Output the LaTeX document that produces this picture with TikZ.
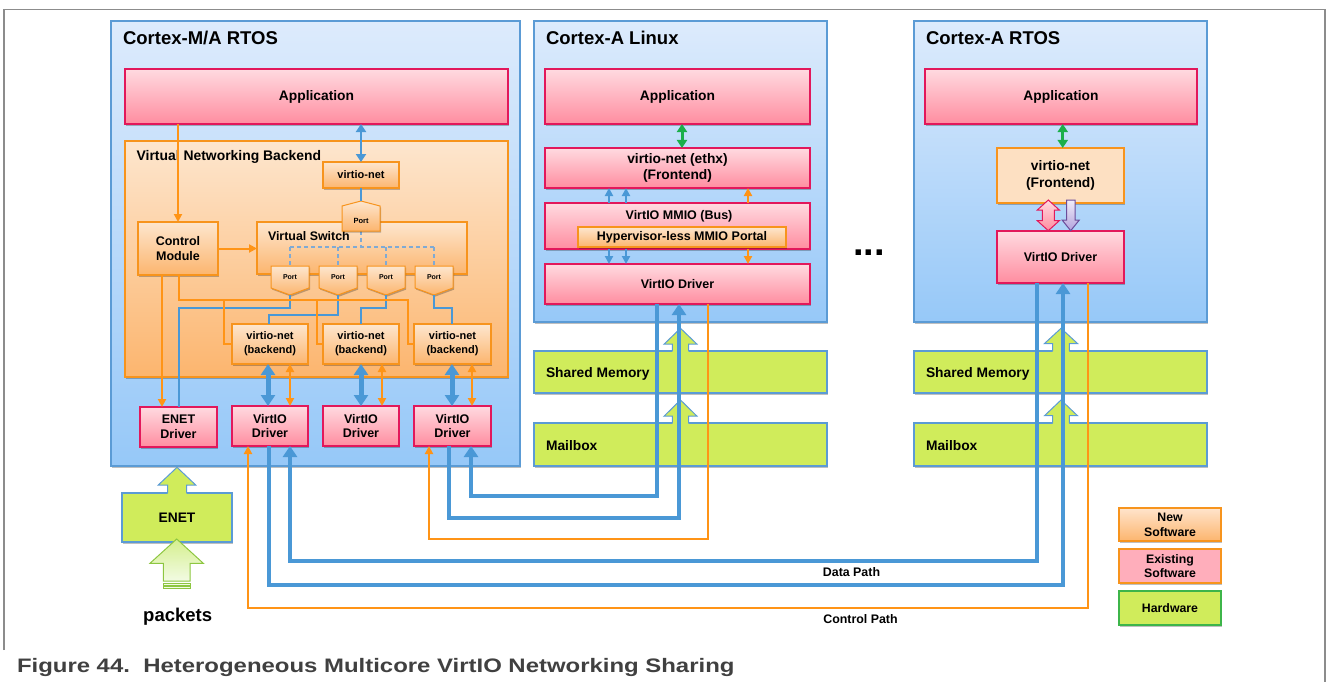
\documentclass[tikz,border=0pt]{standalone}
\usepackage{fontspec}
\setmainfont{Liberation Sans}
\usetikzlibrary{arrows.meta,shadows}
\definecolor{cbd}{HTML}{5B9BD5}
\definecolor{ctop}{HTML}{DDEBFC}
\definecolor{cbot}{HTML}{96C8F8}
\definecolor{pbd}{HTML}{E2185B}
\definecolor{ptop}{HTML}{FFDAE0}
\definecolor{pbot}{HTML}{FF8DA0}
\definecolor{obd}{HTML}{F7941D}
\definecolor{otop}{HTML}{FDE6CE}
\definecolor{obot}{HTML}{FCB56E}
\definecolor{ofl}{HTML}{FDE0C2}
\definecolor{hwf}{HTML}{D0EC5B}
\definecolor{hwbd}{HTML}{3DB54A}
\definecolor{esf}{HTML}{FFAEBB}
\definecolor{lblue}{HTML}{4A98D6}
\definecolor{lorange}{HTML}{FF9416}
\definecolor{lgreen}{HTML}{1BAF4A}
\definecolor{framec}{HTML}{8C8C8C}
\definecolor{dashc}{HTML}{7FAAD4}
\definecolor{pkd}{HTML}{8DC641}
\definecolor{pkt}{HTML}{D5EF8E}
\definecolor{pkb}{HTML}{F2FBE3}
\definecolor{lavt}{HTML}{F0ECFA}
\definecolor{lavb}{HTML}{B3A2DC}
\definecolor{lavd}{HTML}{6B4C9A}
\definecolor{capc}{HTML}{404040}
\newcommand\fsz[2]{\fontsize{#1bp}{#2bp}\selectfont\bfseries}
\tikzset{
  tbig/.tip={Triangle[length=11bp,width=14bp]},
  tmid/.tip={Triangle[length=8bp,width=10bp]},
  tsm/.tip={Triangle[length=8bp,width=8bp]},
  shadowed/.style={drop shadow={shadow xshift=1.2bp,shadow yshift=-1.6bp,opacity=0.25,fill=black}},
  container/.style={draw=cbd,line width=1.3bp,top color=ctop,bottom color=cbot,shadowed},
  pinkbox/.style={draw=pbd,line width=1.1bp,top color=ptop,bottom color=pbot,shadowed,align=center},
  orbox/.style={draw=obd,line width=1.1bp,top color=otop,bottom color=obot,shadowed,align=center},
  hwbox/.style={draw=cbd,line width=1.1bp,fill=hwf,shadowed,align=center},
  dpath/.style={draw=lblue,line width=4.4bp},
  cpath/.style={draw=lorange,line width=2bp},
  bthin/.style={draw=lblue,line width=2bp},
  othin/.style={draw=lorange,line width=2bp},
  gpath/.style={draw=lgreen,line width=3bp},
  dashln/.style={draw=dashc,line width=1.2bp,dash pattern=on 4bp off 3bp},
  ctitle/.style={anchor=base west,font=\fsz{18.5}{22}},
}
\newcommand\dport[2]{%
  \path[draw=obd,line width=1bp,top color=otop,bottom color=obot,shadowed]
    ({#2-19},266) -- ({#2+19},266) -- ({#2+19},288) -- (#2,295) -- ({#2-19},288) -- cycle;
  \node[font=\fsz{7}{8}] (#1) at (#2,277.5) {Port};
  \coordinate (#1B) at (#2,295);
  \coordinate (#1T) at (#2,266);
}
\newcommand\hwarrow[6]{%
  \fill[hwf] (#1,#2) -- ({#1+#5},#3) -- ({#1+#6},#3) -- ({#1+#6},{#4+1.5}) -- ({#1-#6},{#4+1.5}) -- ({#1-#6},#3) -- ({#1-#5},#3) -- cycle;
  \draw[cbd,line width=1bp] ({#1+#6},#4) -- ({#1+#6},#3) -- ({#1+#5},#3) -- (#1,#2) -- ({#1-#5},#3) -- ({#1-#6},#3) -- ({#1-#6},#4);
}
\begin{document}
\begin{tikzpicture}[x=1bp,y=-1bp,every node/.style={inner sep=0pt,outer sep=0pt}]
\useasboundingbox (0,0) rectangle (1328,682);
% frame
\draw[framec,line width=1.5bp] (4,650) -- (4,9.5) -- (1325,9.5) -- (1325,682);
% containers
\node[container,minimum width=409bp,minimum height=445bp] (cma) at (315.5,243.5) {};
\node[container,minimum width=293bp,minimum height=301bp] (cla) at (680.5,171.5) {};
\node[container,minimum width=293bp,minimum height=301bp] (cra) at (1060.5,171.5) {};
\node[ctitle] (t1) at (123,45) {Cortex-M/A RTOS};
\node[ctitle] (t2) at (546,45) {Cortex-A Linux};
\node[ctitle] (t3) at (926,45) {Cortex-A RTOS};
% applications
\node[pinkbox,minimum width=383bp,minimum height=55bp,font=\fsz{13.8}{16}] (app1) at (316.5,96.5) {Application};
\node[pinkbox,minimum width=265bp,minimum height=55bp,font=\fsz{13.8}{16}] (app2) at (677.5,96.5) {Application};
\node[pinkbox,minimum width=272bp,minimum height=55bp,font=\fsz{13.8}{16}] (app3) at (1061,96.5) {Application};
% virtual networking backend
\node[orbox,minimum width=383bp,minimum height=236bp] (vnb) at (316.5,259) {};
\node[anchor=base west,font=\fsz{13.9}{16}] (vnbt) at (136.7,160) {Virtual Networking Backend};
\node[orbox,minimum width=210bp,minimum height=52bp] (vsw) at (362,248) {};
\node[anchor=base west,font=\fsz{12.4}{14}] (vswt) at (268,240) {Virtual Switch};
% dashed switch lines
\draw[dashln] (361,231) -- (361,247);
\draw[dashln] (290,247) -- (434,247);
\foreach \xx in {290,338,386,434} \draw[dashln] (\xx,247) -- (\xx,266);
% top port
\path[draw=obd,line width=1bp,top color=otop,bottom color=obot,shadowed]
  (342,231) -- (342,206) -- (361,201) -- (380,206) -- (380,231) -- cycle;
\node[font=\fsz{7.5}{8}] (tport) at (361,221) {Port};
\coordinate (tportT) at (361,201);
% bottom ports
\dport{p1}{290}
\dport{p2}{338}
\dport{p3}{386}
\dport{p4}{434}
% boxes inside backend
\node[orbox,minimum width=76bp,minimum height=26bp,font=\fsz{11}{13}] (vnet) at (361,175) {virtio-net};
\node[orbox,minimum width=80bp,minimum height=53bp,font=\fsz{12.5}{14.3}] (cmod) at (178,248.5) {Control\\Module};
\node[orbox,minimum width=76bp,minimum height=40bp,font=\fsz{11}{13.7}] (b1) at (270,344) {virtio-net\\(backend)};
\node[orbox,minimum width=76bp,minimum height=40bp,font=\fsz{11}{13.7}] (b2) at (361,344) {virtio-net\\(backend)};
\node[orbox,minimum width=77bp,minimum height=40bp,font=\fsz{11}{13.7}] (b3) at (452.5,344) {virtio-net\\(backend)};
% drivers
\node[pinkbox,minimum width=77bp,minimum height=40bp,font=\fsz{12.5}{14.7}] (enetd) at (178.5,427) {ENET\\Driver};
\node[pinkbox,minimum width=76bp,minimum height=40bp,font=\fsz{12.5}{14.7}] (vd1) at (270,426) {VirtIO\\Driver};
\node[pinkbox,minimum width=76bp,minimum height=40bp,font=\fsz{12.5}{14.7}] (vd2) at (361,426) {VirtIO\\Driver};
\node[pinkbox,minimum width=77bp,minimum height=40bp,font=\fsz{12.5}{14.7}] (vd3) at (452.5,426) {VirtIO\\Driver};
% Linux column
\node[pinkbox,minimum width=265bp,minimum height=40bp,font=\fsz{13.8}{16.6}] (fe2) at (677.5,168) {virtio-net (ethx)\\(Frontend)};
\node[pinkbox,minimum width=265bp,minimum height=46bp] (mmio) at (677.5,226) {};
\node[font=\fsz{12.5}{14}] (mmiot) at (679,216) {VirtIO MMIO (Bus)};
\node[orbox,minimum width=208bp,minimum height=20bp,font=\fsz{12.5}{14}] (portal) at (682,237) {Hypervisor-less MMIO Portal};
\node[pinkbox,minimum width=265bp,minimum height=40bp,font=\fsz{12.5}{14}] (ld) at (677.5,284) {VirtIO Driver};
% RTOS column
\node[draw=obd,line width=1.1bp,fill=ofl,shadowed,align=center,minimum width=127bp,minimum height=55bp,font=\fsz{13.8}{17}] (fe3) at (1060.5,175.5) {virtio-net\\(Frontend)};
\node[pinkbox,minimum width=127bp,minimum height=52bp,font=\fsz{12.5}{14}] (rd) at (1060.5,257) {VirtIO Driver};
\path[draw=pbd,line width=1bp,top color=ptop,bottom color=pbot]
  (1048.3,200) -- (1059.3,210) -- (1054.3,210) -- (1054.3,220.7) -- (1059.3,220.7) -- (1048.3,230.7)
  -- (1037.3,220.7) -- (1042.3,220.7) -- (1042.3,210) -- (1037.3,210) -- cycle;
\path[draw=lavd,line width=1bp,top color=lavt,bottom color=lavb]
  (1066.5,200) -- (1075,200) -- (1075,220) -- (1079.3,220) -- (1070.7,230.7) -- (1062.1,220) -- (1066.5,220) -- cycle;
% hardware
\node[hwbox,minimum width=293bp,minimum height=42bp] (sm2) at (680.5,372) {};
\node[hwbox,minimum width=293bp,minimum height=43bp] (mb2) at (680.5,444.5) {};
\node[hwbox,minimum width=293bp,minimum height=42bp] (sm3) at (1060.5,372) {};
\node[hwbox,minimum width=293bp,minimum height=43bp] (mb3) at (1060.5,444.5) {};
\node[anchor=base west,font=\fsz{13.8}{16}] (sm2t) at (546,377) {Shared Memory};
\node[anchor=base west,font=\fsz{13.8}{16}] (mb2t) at (546,450) {Mailbox};
\node[anchor=base west,font=\fsz{13.8}{16}] (sm3t) at (926,377) {Shared Memory};
\node[anchor=base west,font=\fsz{13.8}{16}] (mb3t) at (926,450) {Mailbox};
\hwarrow{680.5}{328.3}{344}{351}{16.3}{8.2}
\hwarrow{680.5}{400}{416}{423.3}{16.3}{8.2}
\hwarrow{1061}{328.3}{343.5}{351}{16.5}{8.3}
\hwarrow{1061}{400}{415.7}{423.3}{16.5}{8.3}
% ENET
\node[hwbox,minimum width=110bp,minimum height=49bp,font=\fsz{13.8}{16}] (enet) at (177,517.5) {ENET};
\hwarrow{177}{467.3}{485}{493}{18.7}{9.5}
\path[draw=pkd,line width=1bp,top color=pkt,bottom color=pkb]
  (176.7,539) -- (203.3,563.3) -- (190,563.3) -- (190,581) -- (163.3,581) -- (163.3,563.3) -- (150,563.3) -- cycle;
\path[draw=pkd,fill=pkb,line width=0.8bp] (163.3,583) rectangle (190,585);
\path[draw=pkd,fill=pkb,line width=0.8bp] (163.3,586.5) rectangle (190,588.5);
\node[font=\fsz{18.5}{20}] (pkts) at (177.7,616.7) {packets};
% dots
\node[anchor=base,font=\fsz{38}{40}] (dots) at (869,255.5) {...};
% connectors inside backend
\draw[bthin,line width=2.7bp,{tmid}-{tmid}] (app1.south -| 361,0) -- (vnet.north);
\draw[bthin] (vnet.south) -- (tportT);
\draw[bthin] (p1B) |- (179,308) -- (enetd.north -| 179,0);
\draw[bthin] (p2B) |- (269,315) -- (b1.north -| 269,0);
\draw[bthin] (p3B) |- (361,308) -- (b2.north);
\draw[bthin] (p4B) |- (452,308) -- (b3.north -| 452,0);
\draw[othin,-{tsm}] (app1.south -| 178,0) -- (cmod.north -| 178,0);
\draw[othin,-{tsm}] (cmod.east) -- (vsw.west |- cmod.east);
\draw[othin,-{tsm}] (cmod.south -| 162,0) -- (enetd.north -| 162,0);
\draw[othin] (cmod.south -| 179,0) |- (408,300) |- (b3.west);
\draw[othin] (224,300) |- (b1.west);
\draw[othin] (317,300) |- (b2.west);
\foreach \bb/\dd/\xb/\xo in {b1/vd1/268/290,b2/vd2/361/382,b3/vd3/452/472}{
  \draw[dpath,line width=5bp,{tbig}-{tbig}] (\bb.south -| \xb,0) -- (\dd.north -| \xb,0);
  \draw[othin,{tsm}-{tsm}] (\bb.south -| \xo,0) -- (\dd.north -| \xo,0);
}
% Linux internal
\draw[gpath,{tmid}-{tmid}] (app2.south -| 682,0) -- (fe2.north -| 682,0);
\draw[gpath,{tmid}-{tmid}] (app3.south -| 1062.7,0) -- (fe3.north -| 1062.7,0);
\foreach \xx in {609,626}{
  \draw[bthin,line width=2.6bp,-{tsm}] (mmio.north -| \xx,0) -- (fe2.south -| \xx,0);
  \draw[bthin,line width=2.6bp,-{tsm}] (mmio.south -| \xx,0) -- (ld.north -| \xx,0);
}
\draw[othin,-{tsm}] (mmio.north -| 748,0) -- (fe2.south -| 748,0);
\draw[othin,-{tsm}] (mmio.south -| 748,0) -- (ld.north -| 748,0);
% long paths
\draw[dpath,-{tbig}] (ld.south -| 657,0) |- (471,496) -- (vd3.south -| 471,0);
\draw[dpath,-{tbig}] (vd3.south -| 449,0) |- (679,518) -- (ld.south -| 679,0);
\draw[cpath,-{tsm}] (ld.south -| 708,0) |- (429,539) -- (vd3.south -| 429,0);
\draw[dpath,-{tbig}] (rd.south -| 1037,0) |- (290,561) -- (vd1.south -| 290,0);
\draw[dpath,-{tbig}] (vd1.south -| 269,0) |- (1063,585) -- (rd.south -| 1063,0);
\draw[cpath,-{tsm}] (rd.south -| 1088,0) |- (248,608) -- (vd1.south -| 248,0);
\node[font=\fsz{12.4}{14}] (dpl) at (851.5,572.3) {Data Path};
\node[font=\fsz{12.4}{14}] (cpl) at (860.5,619) {Control Path};
% legend
\node[draw=obd,line width=1.1bp,top color={rgb,255:red,255;green,228;blue,204},bottom color=obot,shadowed,align=center,minimum width=102bp,minimum height=33bp,font=\fsz{12.3}{14.7}] (ns) at (1170,524.5) {New\\Software};
\node[draw=obd,line width=1.1bp,fill=esf,shadowed,align=center,minimum width=102bp,minimum height=34bp,font=\fsz{12.3}{14.7}] (es) at (1170,566) {Existing\\Software};
\node[draw=hwbd,line width=1.1bp,fill=hwf,shadowed,align=center,minimum width=102bp,minimum height=34bp,font=\fsz{12.3}{14.7}] (hw) at (1170,608) {Hardware};
% caption
\node[anchor=base west,text=capc] (cap) at (17,672) {\scalebox{1.227}[1]{\fsz{19.5}{22}Figure 44.\ \ Heterogeneous Multicore VirtIO Networking Sharing}};
\end{tikzpicture}
\end{document}
